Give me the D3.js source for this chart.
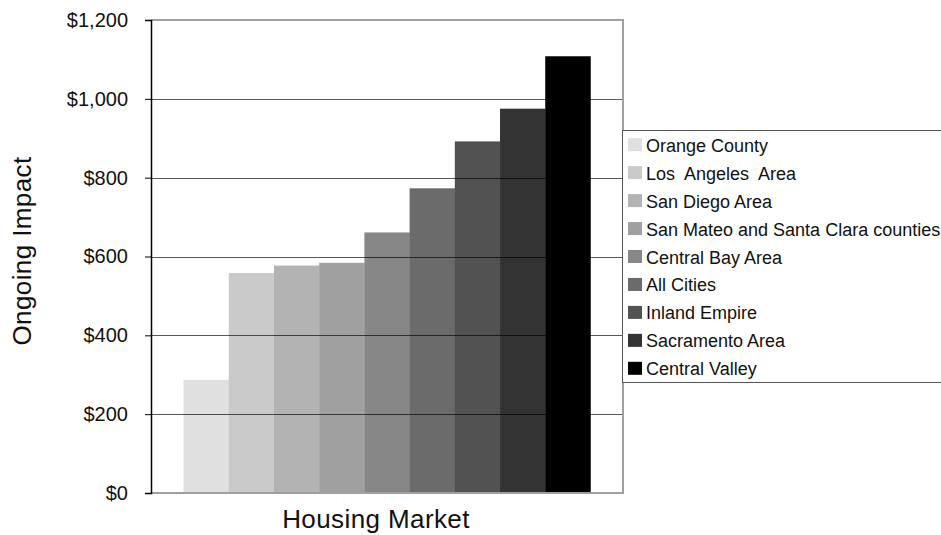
<!DOCTYPE html>
<html>
<head>
<meta charset="utf-8">
<script src="https://cdn.jsdelivr.net/npm/d3@7"></script>
<style>
  html, body { margin: 0; padding: 0; background: #fff; }
  svg { display: block; font-family: "Liberation Sans", Arial, Helvetica, sans-serif; }
</style>
</head>
<body>
<svg id="chart" width="941" height="535"></svg>
<script>
const categories = ["Housing Market"];
const seriesNames = ["Orange County", "Los  Angeles  Area", "San Diego Area", "San Mateo and Santa Clara counties", "Central Bay Area", "All Cities", "Inland Empire", "Sacramento Area", "Central Valley"];
const seriesValues = [287, 558, 577, 584, 661, 773, 892, 975, 1108];
const seriesColors = ["#e0e0e0", "#cacaca", "#b3b3b3", "#a0a0a0", "#878787", "#6b6b6b", "#525252", "#333333", "#000000"];
const yTicks = [0, 200, 400, 600, 800, 1000, 1200];

const svg = d3.select("#chart");
const plot = { left: 151, right: 623, top: 20, bottom: 493 };

const y = d3.scaleLinear().domain([0, 1200]).range([plot.bottom, plot.top]);
const x0 = d3.scaleBand().domain(categories).range([plot.left, plot.right]).paddingInner(0).paddingOuter(0.08);
const x1 = d3.scaleBand().domain(seriesNames).range([0, x0.bandwidth()]).padding(0);

// bars
const g = svg.append("g");
categories.forEach(cat => {
  g.selectAll("rect.bar")
    .data(seriesNames.map((s, i) => ({ s, v: seriesValues[i], c: seriesColors[i] })))
    .enter().append("rect")
    .attr("class", "bar")
    .attr("x", d => x0(cat) + x1(d.s))
    .attr("y", d => y(d.v))
    .attr("width", x1.bandwidth() + 0.3)
    .attr("height", d => y(0) - y(d.v))
    .attr("fill", d => d.c);
});

// gridlines (over the bars)
svg.append("g")
  .selectAll("line")
  .data(yTicks.filter(t => t > 0 && t < 1200))
  .enter().append("line")
  .attr("x1", plot.left).attr("x2", plot.right)
  .attr("y1", d => Math.round(y(d)) + 0.5).attr("y2", d => Math.round(y(d)) + 0.5)
  .attr("stroke", "#000").attr("stroke-opacity", 0.65).attr("stroke-width", 1);

// plot frame (top, right, bottom)
svg.append("path")
  .attr("d", `M${plot.left},${plot.top} H${plot.right} V${plot.bottom} H${plot.left}`)
  .attr("fill", "none").attr("stroke", "#a0a0a0").attr("stroke-width", 2);

// y axis
const yAxis = d3.axisLeft(y).tickValues(yTicks).tickSize(6).tickPadding(17)
  .tickFormat(d => "$" + d3.format(",")(d));
const ya = svg.append("g").attr("transform", `translate(${plot.left},0)`).call(yAxis);
ya.select(".domain").attr("stroke", "#000").attr("stroke-width", 1.5);
ya.selectAll(".tick line").attr("stroke", "#000");
ya.selectAll(".tick text").attr("font-size", 20).attr("fill", "#111")
  .attr("font-family", "\"Liberation Sans\", Arial, sans-serif");

// axis titles
svg.append("text")
  .attr("transform", "translate(31,251) rotate(-90)")
  .attr("text-anchor", "middle")
  .attr("font-size", 26).attr("letter-spacing", 0.4).attr("fill", "#111")
  .text("Ongoing Impact");
svg.append("text")
  .attr("x", 376).attr("y", 528)
  .attr("text-anchor", "middle")
  .attr("font-size", 26).attr("letter-spacing", 0.4).attr("fill", "#111")
  .text("Housing Market");

// legend
const legend = svg.append("g");
legend.append("rect")
  .attr("x", 622.5).attr("y", 130.5).attr("width", 330).attr("height", 252)
  .attr("fill", "#fff").attr("stroke", "#555").attr("stroke-width", 1);
const items = legend.selectAll("g.item")
  .data(seriesNames.map((s, i) => ({ s, c: seriesColors[i] })))
  .enter().append("g").attr("class", "item")
  .attr("transform", (d, i) => `translate(628,${144.7 + i * 27.95})`);
items.append("rect").attr("x", 0).attr("y", -6.5).attr("width", 14).attr("height", 13).attr("fill", d => d.c);
items.append("text").attr("x", 18).attr("y", 7)
  .attr("font-size", 18).attr("fill", "#111")
  .style("white-space", "pre")
  .text(d => d.s);
</script>
</body>
</html>
